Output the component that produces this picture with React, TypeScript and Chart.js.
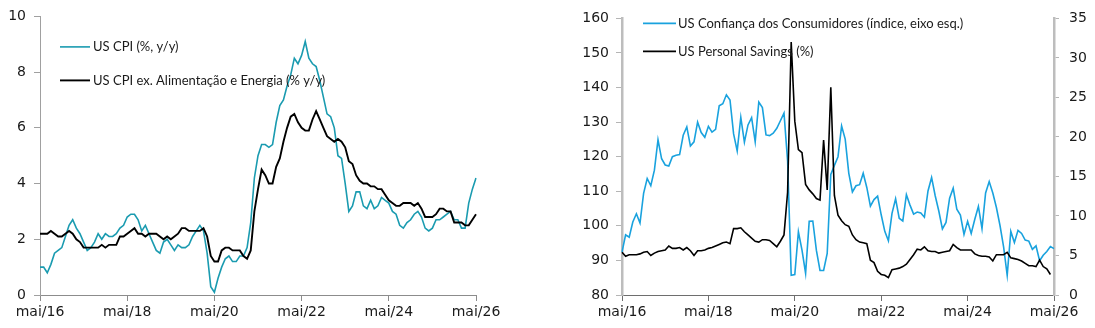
import { useEffect, useRef } from "react";
import { Chart, registerables } from "chart.js";

Chart.register(...registerables);

// Monthly observations, mai/2016 .. mai/2026
const MONTH_ABBR = ["jan", "fev", "mar", "abr", "mai", "jun", "jul", "ago", "set", "out", "nov", "dez"];
const FIRST_YEAR = 2016;
const FIRST_MONTH = 4; // mai
const N_MONTHS = 121;
const LABEL_EVERY = 24; // one axis label every two years

const months: string[] = Array.from({ length: N_MONTHS }, (_, i) => {
  const k = FIRST_MONTH + i;
  const yy = (FIRST_YEAR + Math.floor(k / 12)) % 100;
  return `${MONTH_ABBR[k % 12]}/${String(yy).padStart(2, "0")}`;
});

// US CPI, % y/y
const cpiHeadline: number[] = [
  1.0, 1.0, 0.8, 1.1, 1.5, 1.6, 1.7, 2.1, 2.5, 2.7, 2.4, 2.2,
  1.9, 1.6, 1.7, 1.9, 2.2, 2.0, 2.2, 2.1, 2.1, 2.2, 2.4, 2.5,
  2.8, 2.9, 2.9, 2.7, 2.3, 2.5, 2.2, 1.9, 1.6, 1.5, 1.9, 2.0,
  1.8, 1.6, 1.8, 1.7, 1.7, 1.8, 2.1, 2.3, 2.5, 2.3, 1.5, 0.3,
  0.1, 0.6, 1.0, 1.3, 1.4, 1.2, 1.2, 1.4, 1.4, 1.7, 2.6, 4.2,
  5.0, 5.4, 5.4, 5.3, 5.4, 6.2, 6.8, 7.0, 7.5, 7.9, 8.5, 8.3,
  8.6, 9.1, 8.5, 8.3, 8.2, 7.7, 7.1, 6.5, 6.4, 6.0, 5.0, 4.9,
  4.0, 3.0, 3.2, 3.7, 3.7, 3.2, 3.1, 3.4, 3.1, 3.2, 3.5, 3.4,
  3.3, 3.0, 2.9, 2.5, 2.4, 2.6, 2.7, 2.9, 3.0, 2.8, 2.4, 2.3,
  2.4, 2.7, 2.7, 2.8, 2.9, 3.0, 2.7, 2.7, 2.4, 2.4, 3.3, 3.8, 4.2,
];

// US CPI ex. food and energy, % y/y
const cpiCore: number[] = [
  2.2, 2.2, 2.2, 2.3, 2.2, 2.1, 2.1, 2.2, 2.3, 2.2, 2.0, 1.9,
  1.7, 1.7, 1.7, 1.7, 1.7, 1.8, 1.7, 1.8, 1.8, 1.8, 2.1, 2.1,
  2.2, 2.3, 2.4, 2.2, 2.2, 2.1, 2.2, 2.2, 2.2, 2.1, 2.0, 2.1,
  2.0, 2.1, 2.2, 2.4, 2.4, 2.3, 2.3, 2.3, 2.3, 2.4, 2.1, 1.4,
  1.2, 1.2, 1.6, 1.7, 1.7, 1.6, 1.6, 1.6, 1.4, 1.3, 1.6, 3.0,
  3.8, 4.5, 4.3, 4.0, 4.0, 4.6, 4.9, 5.5, 6.0, 6.4, 6.5, 6.2,
  6.0, 5.9, 5.9, 6.3, 6.6, 6.3, 6.0, 5.7, 5.6, 5.5, 5.6, 5.5,
  5.3, 4.8, 4.7, 4.3, 4.1, 4.0, 4.0, 3.9, 3.9, 3.8, 3.8, 3.6,
  3.4, 3.3, 3.2, 3.2, 3.3, 3.3, 3.3, 3.2, 3.3, 3.1, 2.8, 2.8,
  2.8, 2.9, 3.1, 3.1, 3.0, 3.0, 2.6, 2.6, 2.6, 2.5, 2.5, 2.7, 2.9,
];

// US consumer confidence, index (left axis)
const confidence: number[] = [
  92.4, 97.4, 96.7, 101.1, 103.5, 100.8, 109.4, 113.7, 111.6, 116.1, 124.9, 119.4,
  117.6, 117.3, 120.0, 120.4, 120.6, 126.2, 128.6, 123.1, 124.3, 130.0, 127.0, 125.6,
  128.8, 127.1, 127.9, 134.7, 135.3, 137.9, 136.4, 126.6, 121.7, 131.4, 124.2, 129.2,
  131.3, 124.3, 135.8, 134.2, 126.3, 126.1, 126.8, 128.2, 130.4, 132.6, 118.8, 85.7,
  85.9, 98.3, 93.0, 86.3, 101.3, 101.4, 92.9, 87.1, 87.1, 92.0, 114.9, 117.5,
  120.0, 128.9, 125.1, 115.2, 109.8, 111.6, 111.9, 115.2, 111.1, 105.7, 107.6, 108.6,
  103.2, 98.4, 95.7, 103.6, 107.8, 102.2, 101.4, 109.0, 106.0, 103.4, 104.0, 103.7,
  102.5, 110.1, 114.0, 108.7, 104.3, 99.1, 101.0, 108.0, 110.9, 104.8, 103.1, 97.5,
  101.3, 97.8, 101.9, 105.6, 99.2, 109.5, 112.8, 109.5, 105.3, 100.1, 93.9, 85.7,
  98.4, 95.2, 98.7, 97.8, 95.9, 95.6, 93.2, 94.2, 89.9, 91.5, 92.6, 94.0, 93.4,
];

// US personal saving rate, % (right axis)
const savings: (number | null)[] = [
  5.4, 4.9, 5.1, 5.1, 5.1, 5.2, 5.4, 5.5, 5.0, 5.3, 5.5, 5.6,
  5.7, 6.2, 5.9, 5.9, 6.0, 5.7, 6.0, 5.6, 5.0, 5.6, 5.6, 5.7,
  5.9, 6.0, 6.2, 6.4, 6.6, 6.7, 6.5, 8.4, 8.4, 8.5, 8.0, 7.6,
  7.2, 6.8, 6.7, 7.0, 7.0, 6.9, 6.5, 6.1, 6.8, 7.6, 13.0, 32.0,
  22.0, 18.4, 18.0, 14.0, 13.3, 12.8, 12.2, 12.0, 19.6, 13.3, 26.3, 12.6,
  10.1, 9.4, 8.9, 8.7, 7.6, 7.0, 6.7, 6.6, 6.5, 4.4, 4.1, 3.0,
  2.6, 2.5, 2.2, 3.2, 3.3, 3.4, 3.6, 3.9, 4.5, 5.1, 5.8, 5.7,
  6.1, 5.6, 5.5, 5.5, 5.3, 5.4, 5.5, 5.6, 6.4, 6.0, 5.7, 5.7,
  5.7, 5.7, 5.2, 5.0, 4.9, 4.9, 4.8, 4.3, 5.1, 5.1, 5.1, 5.4,
  4.7, 4.6, 4.5, 4.3, 4.0, 3.7, 3.7, 3.6, 4.4, 3.6, 3.3, 2.6, null,
];

const TEAL = "#1a9bb0";
const SKY = "#19a2de";
const BLACK = "#000000";
const TEXT = "#1a1a1a";
const TICK_FONT = { family: "'DejaVu Sans', sans-serif", size: 14 };
const LEGEND_FONT = "13px Lato, 'DejaVu Sans', sans-serif";

// Vertical legend drawn inside the plot area: a short line sample followed by the series name
function insideLegend(id: string, dx: number, dy: number, gap: number, sample: number, textGap: number) {
  return {
    id,
    afterDatasetsDraw(chart: any) {
      const { ctx, chartArea } = chart;
      ctx.save();
      ctx.font = LEGEND_FONT;
      ctx.textBaseline = "middle";
      ctx.textAlign = "left";
      chart.data.datasets.forEach((ds: any, i: number) => {
        const x0 = chartArea.left + dx;
        const y = chartArea.top + dy + i * gap;
        ctx.strokeStyle = ds.borderColor;
        ctx.lineWidth = ds.borderWidth;
        ctx.beginPath();
        ctx.moveTo(x0, y);
        ctx.lineTo(x0 + sample, y);
        ctx.stroke();
        ctx.fillStyle = TEXT;
        ctx.fillText(ds.label, x0 + sample + textGap, y);
      });
      ctx.restore();
    },
  };
}

function xAxis(axisColor: string) {
  return {
    type: "category" as const,
    offset: false,
    grid: { drawOnChartArea: false, drawTicks: true, tickLength: 6, color: axisColor, lineWidth: 1 },
    border: { display: true, color: axisColor, width: 1 },
    ticks: {
      autoSkip: false,
      maxRotation: 0,
      minRotation: 0,
      padding: 3,
      color: TEXT,
      font: TICK_FONT,
      callback: (_v: any, i: number) => (i % LABEL_EVERY === 0 ? months[i] : null),
    },
    afterFit: (s: any) => {
      s.height = 33;
    },
  };
}

export default function App() {
  const leftRef = useRef<HTMLCanvasElement | null>(null);
  const rightRef = useRef<HTMLCanvasElement | null>(null);

  useEffect(() => {
    if (!leftRef.current || !rightRef.current) return;

    const left = new Chart(leftRef.current, {
      type: "line",
      data: {
        labels: months,
        datasets: [
          {
            label: "US CPI (%, y/y)",
            data: cpiHeadline,
            borderColor: TEAL,
            backgroundColor: TEAL,
            borderWidth: 1.6,
            pointRadius: 0,
            tension: 0,
            order: 2,
          },
          {
            label: "US CPI ex. Alimentação e Energia (% y/y)",
            data: cpiCore,
            borderColor: BLACK,
            backgroundColor: BLACK,
            borderWidth: 1.9,
            pointRadius: 0,
            tension: 0,
            order: 1,
          },
        ],
      },
      options: {
        responsive: false,
        animation: false,
        devicePixelRatio: 1,
        layout: { padding: { top: 11, right: 34, left: 0, bottom: 0 } },
        plugins: { legend: { display: false }, tooltip: { enabled: false } },
        scales: {
          x: xAxis("#8c8c8c"),
          y: {
            min: 0,
            max: 10,
            grid: { drawOnChartArea: false, drawTicks: true, tickLength: 6, color: "#a0a0a0", lineWidth: 1 },
            border: { display: true, color: "#a0a0a0", width: 1 },
            ticks: { stepSize: 2, padding: 8, color: TEXT, font: TICK_FONT },
            afterFit: (s: any) => {
              s.width = 40;
            },
          },
        },
      },
      plugins: [insideLegend("cpiLegend", 20, 30.5, 33.5, 30, 3)],
    } as any);

    const right = new Chart(rightRef.current, {
      type: "line",
      data: {
        labels: months,
        datasets: [
          {
            label: "US Confiança dos Consumidores (índice, eixo esq.)",
            data: confidence,
            borderColor: SKY,
            backgroundColor: SKY,
            borderWidth: 1.6,
            pointRadius: 0,
            tension: 0,
            yAxisID: "y",
            order: 2,
          },
          {
            label: "US Personal Savings (%)",
            data: savings,
            borderColor: BLACK,
            backgroundColor: BLACK,
            borderWidth: 1.6,
            pointRadius: 0,
            tension: 0,
            yAxisID: "y1",
            order: 1,
          },
        ],
      },
      options: {
        responsive: false,
        animation: false,
        devicePixelRatio: 1,
        layout: { padding: { top: 11, right: 0, left: 0, bottom: 0 } },
        plugins: { legend: { display: false }, tooltip: { enabled: false } },
        scales: {
          x: xAxis("#6e6e6e"),
          y: {
            position: "left",
            min: 80,
            max: 160,
            grid: { drawOnChartArea: false, drawTicks: true, tickLength: 6, color: "#b5b5b5", lineWidth: 1 },
            border: { display: true, color: "#bdbdbd", width: 2.5 },
            ticks: { stepSize: 10, padding: 7, color: TEXT, font: TICK_FONT },
            afterFit: (s: any) => {
              s.width = 77;
            },
          },
          y1: {
            position: "right",
            min: 0,
            max: 35,
            grid: { drawOnChartArea: false, drawTicks: true, tickLength: 5, color: "#b5b5b5", lineWidth: 1 },
            border: { display: true, color: "#bdbdbd", width: 2.5 },
            ticks: { stepSize: 5, padding: 10, color: TEXT, font: TICK_FONT },
            afterFit: (s: any) => {
              s.width = 41;
            },
          },
        },
      },
      plugins: [insideLegend("consumerLegend", 21, 5, 28, 33, 2)],
    } as any);

    return () => {
      left.destroy();
      right.destroy();
    };
  }, []);

  return (
    <div style={{ position: "fixed", left: 0, top: 0, width: 1095, height: 328, background: "#ffffff" }}>
      <canvas
        ref={leftRef}
        width={510}
        height={328}
        style={{ position: "absolute", left: 0, top: 0, width: 510, height: 328 }}
      />
      <canvas
        ref={rightRef}
        width={550}
        height={328}
        style={{ position: "absolute", left: 545, top: 0, width: 550, height: 328 }}
      />
    </div>
  );
}
